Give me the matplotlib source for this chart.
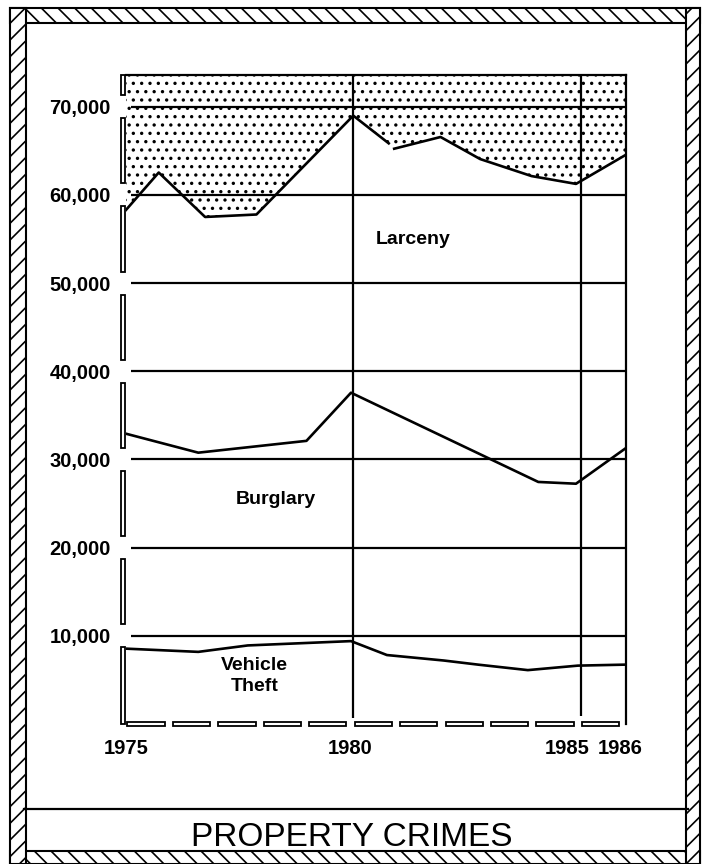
import matplotlib
matplotlib.use("Agg")
import matplotlib.pyplot as plt
from matplotlib.patches import Rectangle
from matplotlib import transforms
import numpy as np

plt.rcParams['font.family'] = ['Liberation Sans', 'DejaVu Sans']
plt.rcParams['hatch.linewidth'] = 1.2

# ---- data ----
larceny_years = [1975.0, 1975.72, 1976.74, 1977.87, 1980.0, 1980.78, 1980.9,
                 1981.92, 1982.79, 1983.92, 1984.9, 1986.0]
larceny = [58300, 62540, 57500, 57780, 68990, 65850, 65240,
           66570, 64070, 62140, 61250, 64560]

burglary_years = [1975.0, 1976.59, 1978.97, 1979.95, 1984.07, 1984.9, 1986.0]
burglary = [32920, 30770, 32110, 37570, 27450, 27250, 31300]

vehicle_years = [1975.0, 1976.59, 1977.68, 1979.95, 1980.74, 1981.99,
                 1982.75, 1983.84, 1984.94, 1985.96]
vehicle = [8545, 8180, 8910, 9400, 7820, 7200, 6730, 6110, 6620, 6730]

y_ticks = [10000, 20000, 30000, 40000, 50000, 60000, 70000]
y_labels = ["10,000", "20,000", "30,000", "40,000", "50,000", "60,000", "70,000"]
x_ticks = [1975, 1980, 1985, 1986]
x_labels = ["1975", "1980", "1985", "1986"]
v_lines = [1980, 1985]
title = "PROPERTY CRIMES"

# ---- figure ----
W, H = 703, 864
fig = plt.figure(figsize=(W / 100, H / 100), dpi=100)
fig.patch.set_facecolor("white")

def fx(px):
    return px / W

def fy(py):
    return 1 - py / H

ax_l, ax_r, ax_t, ax_b = 126, 626, 75, 724
ax = fig.add_axes([fx(ax_l), fy(ax_b), (ax_r - ax_l) / W, (ax_b - ax_t) / H])
YMAX = 73600
ax.set_xlim(1975, 1986)
ax.set_ylim(0, YMAX)

for s in ["left", "bottom"]:
    ax.spines[s].set_visible(False)
ax.spines["top"].set_linewidth(1.6)
ax.spines["right"].set_linewidth(1.6)

# stippled region above larceny
ax.fill_between(larceny_years, larceny, YMAX, facecolor="white",
                edgecolor="black", hatch="..", linewidth=0, zorder=1)

# grid lines
ax.hlines(y_ticks, 1975.1, 1986, colors="black", linewidth=1.6, zorder=2)
ax.vlines(v_lines, [730, 910], YMAX, colors="black", linewidth=1.6, zorder=2)

# series (larceny stroke has a small break just after 1980)
lw = 1.9
brk = 6
ax.plot(larceny_years[:brk], larceny[:brk], color="black", lw=lw, zorder=3)
ax.plot(larceny_years[brk:], larceny[brk:], color="black", lw=lw, zorder=3)
ax.plot(burglary_years, burglary, color="black", lw=lw, zorder=3)
ax.plot(vehicle_years, vehicle, color="black", lw=lw, zorder=3)

# hollow segmented left axis
blend = transforms.blended_transform_factory(ax.transAxes, ax.transData)
gap = 1300
edges = [0] + y_ticks + [YMAX]
for i in range(len(edges) - 1):
    lo = edges[i] + (gap if i > 0 else 0)
    hi = edges[i + 1] - gap if i + 1 < len(edges) - 1 else edges[i + 1]
    ax.add_patch(Rectangle((-0.011, lo), 0.008, hi - lo, transform=blend,
                           facecolor="white", edgecolor="black", lw=1.3,
                           clip_on=False, zorder=4))

# hollow dashed bottom axis
h_dash = 560
for yr in range(1975, 1986):
    ax.add_patch(Rectangle((yr + 0.03, -h_dash / 2), 0.82, h_dash,
                           facecolor="white", edgecolor="black", lw=1.3,
                           clip_on=False, zorder=4))

# ticks
ax.set_yticks(y_ticks, y_labels)
ax.set_xticks(x_ticks, x_labels)
ax.tick_params(axis="both", length=0)
ax.tick_params(axis="y", pad=11, labelsize=14.5)
ax.tick_params(axis="x", pad=11, labelsize=14.5)
for t in ax.get_xticklabels() + ax.get_yticklabels():
    t.set_fontweight("bold")
# nudge the crowded 1985 / 1986 labels apart as in the original
shifts = [0, -3, -13, -6]
for t, dx in zip(ax.get_xticklabels(), shifts):
    t.set_transform(t.get_transform() +
                    transforms.ScaledTranslation(dx / 100, 0, fig.dpi_scale_trans))

# series labels
lab = dict(ha="center", va="center", fontsize=14, fontweight="bold", zorder=5)
ax.text(1981.31, 55000, "Larceny", **lab)
ax.text(1978.29, 25500, "Burglary", **lab)
ax.text(1977.83, 5450, "Vehicle\nTheft", linespacing=1.3, **lab)

# title divider and title
fig.add_artist(plt.Line2D([fx(24), fx(688)], [fy(809), fy(809)],
                          color="black", lw=1.6))
fig.text(fx(352), fy(837), title, ha="center", va="center", fontsize=24)

# rope border
def rope(x0, y0, x1, y1, hatch):
    fig.add_artist(Rectangle((fx(x0), fy(y1)), fx(x1) - fx(x0), fy(y0) - fy(y1),
                             transform=fig.transFigure, facecolor="white",
                             edgecolor="black", hatch=hatch, lw=1.5))

rope(10, 8, 700, 23, "\\\\")
rope(10, 851, 700, 864, "\\\\")
rope(10, 8, 26, 864, "//")
rope(686, 8, 700, 864, "//")

fig.savefig("out.png", dpi=100, facecolor="white")
